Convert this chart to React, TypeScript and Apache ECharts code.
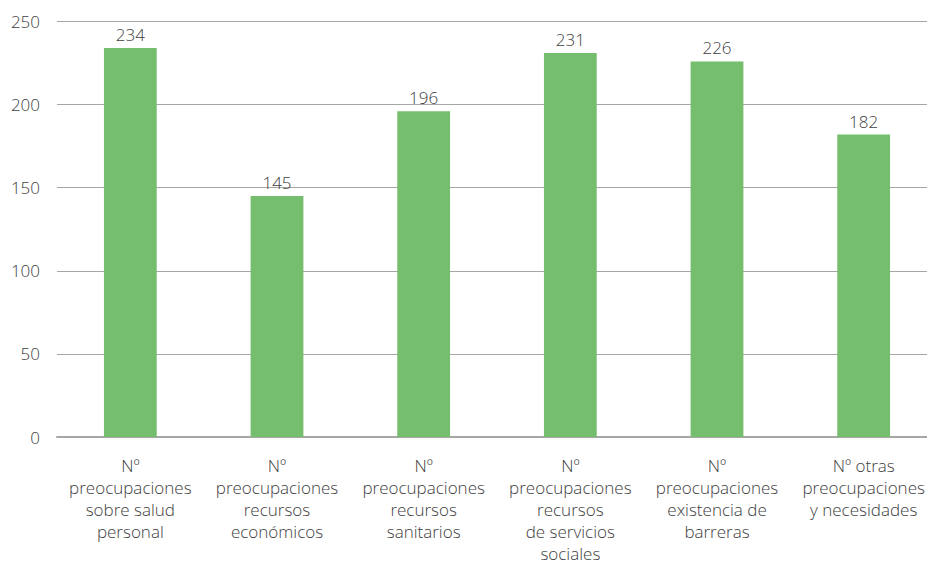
import React, { useEffect, useRef } from "react";
import * as echarts from "echarts";

const categories = [
  "Nº\npreocupaciones\nsobre salud\npersonal",
  "Nº\npreocupaciones\nrecursos\neconómicos",
  "Nº\npreocupaciones\nrecursos\nsanitarios",
  "Nº\npreocupaciones\nrecursos\nde servicios\nsociales",
  "Nº\npreocupaciones\nexistencia de\nbarreras",
  "Nº otras\npreocupaciones\ny necesidades",
];
const values = [234, 145, 196, 231, 226, 182];
const yTicks = { min: 0, max: 250, interval: 50 };

const FONT = "'Open Sans', Lato, sans-serif";
const TEXT = "#404040";

export default function App() {
  const ref = useRef<HTMLDivElement>(null);

  useEffect(() => {
    document.body.style.margin = "0";
    document.body.style.overflow = "hidden";
    if (!ref.current) return;
    const chart = echarts.init(ref.current, undefined, { renderer: "svg" });
    chart.setOption({
      animation: false,
      backgroundColor: "#ffffff",
      grid: {
        left: 57,
        top: 21.5,
        width: 880,
        height: 415.5,
        outerBoundsMode: "none",
        containLabel: false,
      },
      xAxis: {
        type: "category",
        data: categories,
        axisLine: { lineStyle: { color: "#a6a6a6", width: 2 } },
        axisTick: { show: false },
        axisLabel: {
          interval: 0,
          margin: 17,
          color: TEXT,
          fontFamily: FONT,
          fontWeight: 300,
          fontSize: 17,
          lineHeight: 22,
        },
      },
      yAxis: {
        type: "value",
        min: yTicks.min,
        max: yTicks.max,
        interval: yTicks.interval,
        axisLine: { show: false },
        axisTick: { show: false },
        splitLine: { lineStyle: { color: "#a6a6a6", width: 1 } },
        axisLabel: {
          margin: 17,
          color: TEXT,
          fontFamily: FONT,
          fontWeight: 300,
          fontSize: 17,
        },
      },
      series: [
        {
          type: "bar",
          data: values,
          barWidth: "36%",
          itemStyle: { color: "#75be6e" },
          label: {
            show: true,
            position: "top",
            distance: 5,
            color: TEXT,
            fontFamily: FONT,
            fontWeight: 300,
            fontSize: 17,
          },
        },
      ],
    });
    return () => chart.dispose();
  }, []);

  return (
    <div
      ref={ref}
      style={{ position: "absolute", left: 0, top: 0, width: 927, height: 564 }}
    />
  );
}
